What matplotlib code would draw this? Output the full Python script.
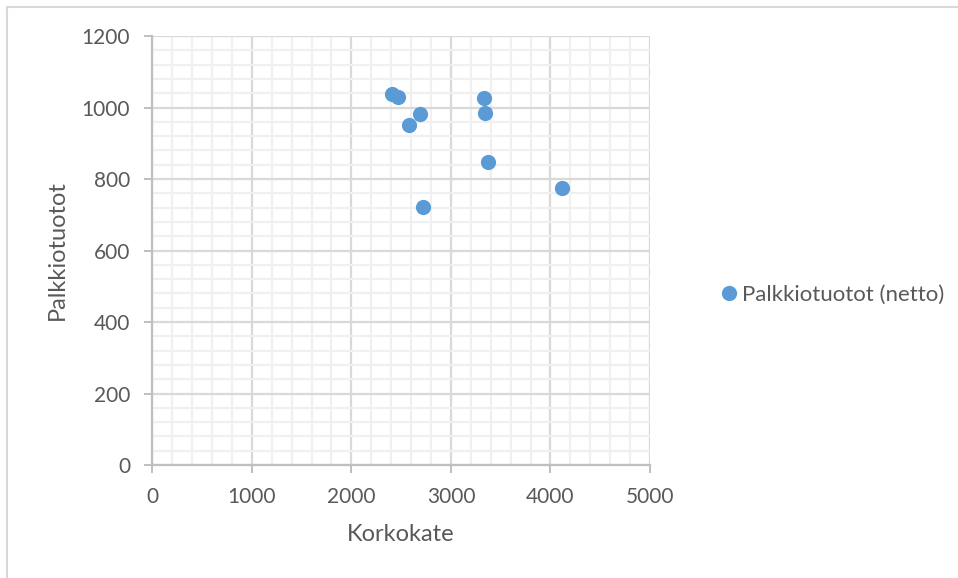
import matplotlib

matplotlib.use("Agg")
import matplotlib.pyplot as plt  # noqa: E402
from matplotlib.lines import Line2D  # noqa: E402
from matplotlib.ticker import MultipleLocator  # noqa: E402

# Net interest income vs. net fee income, one point per bank.
korkokate = [2410, 2470, 2688, 2581, 2722, 3332, 3345, 3372, 4119]
palkkiotuotot = [1037, 1029, 981, 951, 722, 1026, 984, 847, 774]

SERIES_NAME = "Palkkiotuotot (netto)"
X_LABEL = "Korkokate"
Y_LABEL = "Palkkiotuotot"

DOT = "#5b9bd5"
TEXT = "#595959"
AXIS = "#bfbfbf"
MAJOR = "#d9d9d9"
MINOR = "#f0f0f0"

plt.rcParams["font.family"] = ["Lato", "DejaVu Sans"]

fig = plt.figure(figsize=(9.58, 5.78), dpi=100)
ax = fig.add_axes([0.159, 0.1955, 0.5195, 0.7422])

ax.scatter(korkokate, palkkiotuotot, s=120, color=DOT, linewidths=0, zorder=3)

ax.set_xlim(0, 5000)
ax.set_ylim(0, 1200)
ax.xaxis.set_major_locator(MultipleLocator(1000))
ax.xaxis.set_minor_locator(MultipleLocator(200))
ax.yaxis.set_major_locator(MultipleLocator(200))
ax.yaxis.set_minor_locator(MultipleLocator(40))

ax.grid(which="minor", color=MINOR, linewidth=1.6, zorder=0)
ax.grid(which="major", color=MAJOR, linewidth=1.6, zorder=1)
ax.set_axisbelow(True)

for side in ("top", "right"):
    ax.spines[side].set_visible(False)
for side in ("left", "bottom"):
    ax.spines[side].set_color(AXIS)
    ax.spines[side].set_linewidth(1.6)

ax.tick_params(which="major", length=6, width=1.4, color=AXIS,
               labelcolor=TEXT, labelsize=15, pad=10)
ax.tick_params(which="minor", length=0)

ax.set_xlabel(X_LABEL, fontsize=17, color=TEXT, labelpad=12)
ax.set_ylabel(Y_LABEL, fontsize=17, color=TEXT, labelpad=10)

handle = Line2D([], [], marker="o", linestyle="none", markersize=11,
                markerfacecolor=DOT, markeredgewidth=0)
fig.legend([handle], [SERIES_NAME], loc="center left",
           bbox_to_anchor=(0.73, 0.49), frameon=False, fontsize=16,
           handletextpad=0.1, labelcolor=TEXT, handlelength=0.9)

# chart frame: only top and left edges are visible
fig.add_artist(Line2D([0.007, 1.0], [0.988, 0.988], color="#d9d9d9",
                      linewidth=1.5, transform=fig.transFigure))
fig.add_artist(Line2D([0.007, 0.007], [0.0, 0.988], color="#d9d9d9",
                      linewidth=1.5, transform=fig.transFigure))

fig.savefig("out.png", dpi=100, facecolor="white")
